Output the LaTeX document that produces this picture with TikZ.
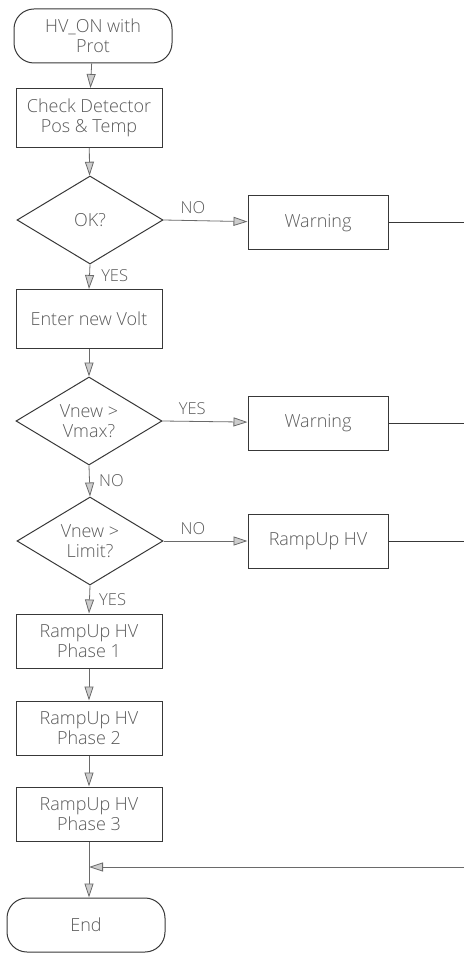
\documentclass[tikz,border=0pt]{standalone}
\usepackage{fontspec}
\setmainfont{Open Sans}[UprightFont=* Light]
\usetikzlibrary{arrows.meta,shapes.geometric}
\definecolor{ink}{rgb}{0.22,0.22,0.22}
\definecolor{txt}{rgb}{0.35,0.35,0.35}
\begin{document}
\begin{tikzpicture}[x=1pt,y=-1pt,
  font=\fontsize{18}{20.5}\selectfont, text=txt,
  box/.style={draw=ink, line width=1pt, minimum width=146pt, minimum height=59pt, align=center, inner sep=1pt},
  sbox/.style={draw=ink, line width=1pt, minimum width=140pt, minimum height=54pt, align=center},
  term/.style={draw=ink, line width=1pt, rounded corners=20pt, minimum width=158pt, minimum height=54pt, align=center},
  dec/.style={draw=ink, line width=1pt, diamond, aspect=1.65, minimum width=146pt, minimum height=88pt, inner sep=0pt, align=center},
  arr/.style={draw=ink!75, line width=0.8pt, -{Triangle[open, length=14pt, width=9pt, fill=ink!25]}},
  lin/.style={draw=ink, line width=1pt},
  lab/.style={text=txt, font=\fontsize{16.5}{19}\selectfont}
]
\useasboundingbox (0,0) rectangle (464,957);
\node[term] (start) at (93,36) {HV\_ON with\\Prot};
\node[box] (check) at (89,118) {Check Detector\\Pos \& Temp};
\node[dec] (ok) at (90,220) {OK?};
\node[sbox] (warn1) at (318,223) {Warning};
\node[box] (enter) at (89,319) {Enter new Volt};
\node[dec] (vmax) at (89,421) {Vnew >\\Vmax?};
\node[sbox] (warn2) at (318,423) {Warning};
\node[dec] (lim) at (90,541) {Vnew >\\Limit?};
\node[sbox] (ramp) at (318,541) {RampUp HV};
\node[box, minimum height=54pt] (p1) at (89,641) {RampUp HV\\Phase 1};
\node[box, minimum height=54pt] (p2) at (89,728) {RampUp HV\\Phase 2};
\node[box, minimum height=54pt] (p3) at (89,814) {RampUp HV\\Phase 3};
\node[term] (end) at (86,925) {End};
\coordinate (merge) at (89,867);
\coordinate (e1) at (464,223);
\coordinate (e2) at (464,423);
\coordinate (e3) at (464,541);
\coordinate (e4) at (464,867);

\draw[arr] (start) -- (check);
\draw[arr] (check) -- (ok);
\draw[arr] (ok.east) -- node[lab, above=3pt, pos=0.35] {NO} (warn1);
\draw[arr] (ok.south) -- node[lab, right=8pt, pos=0.45] {YES} (enter.north);
\draw[arr] (enter) -- (vmax);
\draw[arr] (vmax.east) -- node[lab, above=3pt, pos=0.35] {YES} (warn2);
\draw[arr] (vmax.south) -- node[lab, right=6pt, pos=0.5] {NO} (lim.north);
\draw[arr] (lim.east) -- node[lab, above=3pt, pos=0.35] {NO} (ramp);
\draw[arr] (lim.south) -- node[lab, right=6pt, pos=0.5] {YES} (p1.north);
\draw[arr] (p1) -- (p2);
\draw[arr] (p2) -- (p3);
\draw[lin] (warn1) -- (e1);
\draw[lin] (warn2) -- (e2);
\draw[lin] (ramp) -- (e3);
\draw[arr] (e4) -- (merge);
\draw[arr] (p3.south) -- (p3.south |- end.north);
\end{tikzpicture}
\end{document}
